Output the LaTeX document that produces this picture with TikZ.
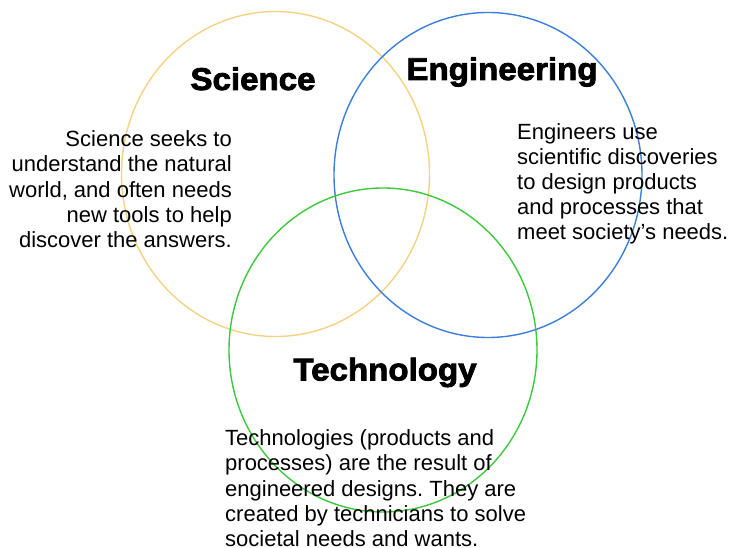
\documentclass[tikz,border=0pt]{standalone}
\usepackage{fontspec}
\setmainfont{Liberation Sans}
\newfontfamily\headfont[FakeBold=2.6,FakeStretch=1.05]{Liberation Sans Bold}
\definecolor{sciyellow}{HTML}{F6D283}
\definecolor{engblue}{HTML}{3C7FDD}
\definecolor{techgreen}{HTML}{3DC93D}
\frenchspacing
\begin{document}
\begin{tikzpicture}[x=1pt,y=-1pt,
  ring/.style={line width=1.4pt},
  head/.style={font=\headfont\fontsize{31.5}{34}\selectfont, inner sep=0pt, anchor=base},
  body/.style={font=\fontsize{22}{25.2}\selectfont, inner sep=0pt}]
\useasboundingbox (0,0) rectangle (729,548);
\fill[white] (0,0) rectangle (729,548);
\draw[ring, sciyellow] (275.5,174) ellipse [x radius=154, y radius=162.5];
\draw[ring, engblue] (488,175) ellipse [x radius=154, y radius=162.5];
\draw[ring, techgreen] (383,350) ellipse [x radius=154, y radius=162];
\node[head] (sci) at (253,90) {Science};
\node[head] (eng) at (502,80) {Engineering};
\node[head] (tech) at (385,380.5) {Technology};
\node[body, align=right, anchor=north east] (scitext) at (232,130.5)
  {Science seeks to\\understand the natural\\world, and often needs\\new tools to help\\discover the answers.};
\node[body, align=left, anchor=north west] (engtext) at (517,123)
  {Engineers use\\scientific discoveries\\to design products\\and processes that\\meet society’s needs.};
\node[body, align=left, anchor=north west] (techtext) at (225,429.5)
  {Technologies (products and\\processes) are the result of\\engineered designs. They are\\created by technicians to solve\\societal needs and wants.};
\end{tikzpicture}
\end{document}
